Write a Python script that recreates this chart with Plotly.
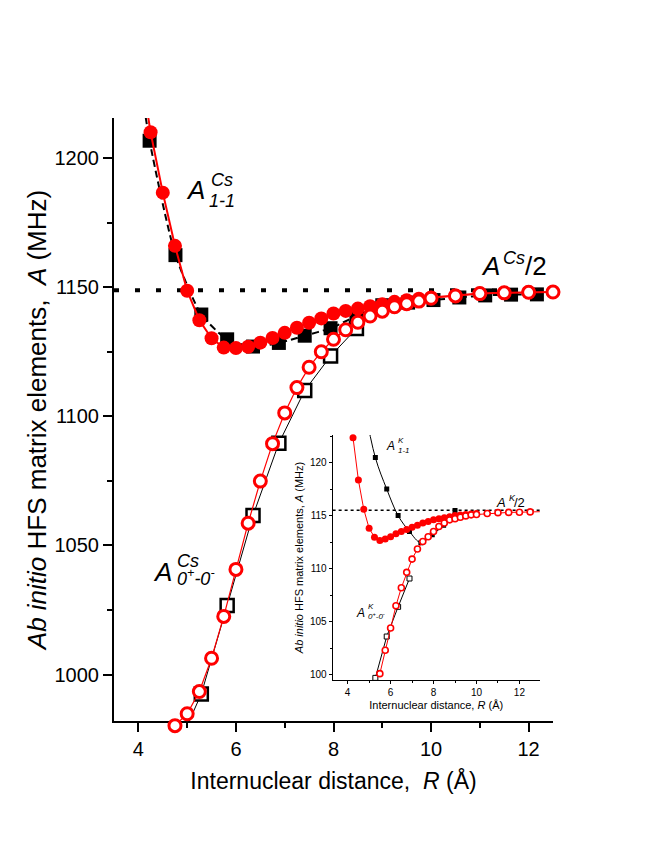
import plotly.graph_objects as go

# ---------------- main panel (Cs) ----------------
R_sq_filled = [3.70, 4.23, 4.76, 5.29, 5.82, 6.35, 6.88, 7.41, 7.94, 8.47, 9.00, 9.53, 10.05, 10.58, 11.11, 11.64, 12.17]
A_sq_filled = [1275, 1206.7, 1162.4, 1139.4, 1129.8, 1127.0, 1128.4, 1131.2, 1134.1, 1138.8, 1143.0, 1144.0, 1145.0, 1146.0, 1146.8, 1147.1, 1147.2]

R_sq_open = [4.76, 5.29, 5.82, 6.35, 6.88, 7.41, 7.94, 8.47]
A_sq_open = [970.0, 992.5, 1026.7, 1061.6, 1089.6, 1110.0, 1123.3, 1134.0]

R_circ_filled = [4.00, 4.25, 4.50, 4.75, 5.00, 5.25, 5.50, 5.75, 6.00, 6.25, 6.50, 6.75, 7.00, 7.25, 7.50,
                 7.75, 8.00, 8.25, 8.50, 8.75, 9.00, 9.25, 9.50, 9.75, 10.0, 10.5, 11.0, 11.5, 12.0, 12.5]
A_circ_filled = [1240, 1210.0, 1186.6, 1166.0, 1148.6, 1137.2, 1130.2, 1126.6, 1126.4, 1126.9, 1128.5, 1130.3, 1132.3,
                 1134.3, 1136.2, 1137.9, 1139.8, 1140.8, 1141.7, 1142.6, 1143.4, 1144.3, 1144.9, 1145.5, 1146.0,
                 1146.8, 1147.5, 1147.8, 1148.0, 1148.1]

R_circ_open = [4.75, 5.00, 5.25, 5.50, 5.75, 6.00, 6.25, 6.50, 6.75, 7.00, 7.25, 7.50, 7.75, 8.00, 8.25,
               8.50, 8.75, 9.00, 9.25, 9.50, 9.75, 10.0, 10.5, 11.0, 11.5, 12.0, 12.5]
A_circ_open = [980.2, 984.8, 993.4, 1006.3, 1022.5, 1040.7, 1058.6, 1074.9, 1089.4, 1101.3, 1111.1, 1119.0,
               1125.0, 1129.8, 1133.5, 1136.4, 1138.8, 1140.7, 1142.4, 1143.6, 1144.6, 1145.7, 1146.6, 1147.5,
               1147.8, 1148.0, 1148.1]

A_CS_HALF = 1148.8

# ---------------- inset (K) ----------------
Rk_sq_filled = [4.76, 5.29, 5.82, 6.35, 6.88, 7.41, 7.94, 8.47, 9.00]
Ak_sq_filled = [125.5, 120.47, 117.5, 115.0, 113.5, 112.45, 113.2, 114.1, 115.47]

Rk_sq_open = [5.29, 5.82, 6.35, 6.88]
Ak_sq_open = [99.7, 103.6, 106.4, 109.07]

Rk_circ_filled = [4.25, 4.50, 4.75, 5.00, 5.25, 5.50, 5.75, 6.00, 6.25, 6.50, 6.75, 7.00, 7.25, 7.50, 7.75,
                  8.00, 8.25, 8.50, 8.75, 9.00, 9.25, 9.50, 9.75, 10.0]
Ak_circ_filled = [122.35, 118.35, 115.6, 113.8, 112.97, 112.66, 112.8, 113.0, 113.3, 113.5, 113.7, 113.9, 114.1,
                  114.3, 114.45, 114.6, 114.7, 114.8, 114.9, 115.0, 115.05, 115.1, 115.15, 115.2]

Rk_circ_open = [5.50, 5.75, 6.00, 6.25, 6.50, 6.75, 7.00, 7.25, 7.50, 7.75, 8.00, 8.25, 8.50, 8.75, 9.00,
                9.25, 9.50, 9.75, 10.0, 10.5, 11.0, 11.5, 12.0, 12.5, 13.0]
Ak_circ_open = [100.1, 102.3, 104.4, 106.5, 108.2, 109.65, 110.9, 111.85, 112.56, 113.0, 113.5, 113.97, 114.3,
                114.6, 114.7, 114.85, 114.97, 115.07, 115.1, 115.2, 115.28, 115.3, 115.32, 115.35, 115.37]

A_K_HALF = 115.5

FONT = "Arial, Liberation Sans, sans-serif"
RED = "#ff0000"

# layout geometry
H, T, B = 860, 110, 137
PLOT_H = H - T - B                 # full plotting height (includes 10 px overhang below main axis)
OVER = 10                          # px below the main x axis where the lowest marker may be drawn
Y_MIN, Y_MAX = 982, 1215.5
MAIN_BOTTOM = OVER / PLOT_H
PX_PER_UNIT = (PLOT_H - OVER) / (Y_MAX - Y_MIN)
Y3_MIN = Y_MIN - OVER / PX_PER_UNIT

fig = go.Figure()

# main traces
fig.add_trace(go.Scatter(x=R_sq_filled, y=A_sq_filled, mode="lines+markers",
                         line=dict(color="black", width=2, dash="7px,4px", shape="spline", smoothing=0.6),
                         marker=dict(symbol="square", size=14, color="black"),
                         xaxis="x", yaxis="y"))
fig.add_trace(go.Scatter(x=R_sq_open, y=A_sq_open, mode="lines+markers",
                         line=dict(color="black", width=1),
                         marker=dict(symbol="square", size=13, color="white", line=dict(color="black", width=2.5)),
                         xaxis="x", yaxis="y"))
fig.add_trace(go.Scatter(x=R_circ_filled, y=A_circ_filled, mode="lines+markers",
                         line=dict(color=RED, width=2),
                         marker=dict(symbol="circle", size=14, color=RED),
                         xaxis="x", yaxis="y"))
fig.add_trace(go.Scatter(x=R_circ_open, y=A_circ_open, mode="lines+markers", cliponaxis=False,
                         line=dict(color=RED, width=1.2),
                         marker=dict(symbol="circle", size=12, color="white", line=dict(color=RED, width=3)),
                         xaxis="x", yaxis="y3"))

# inset traces
fig.add_trace(go.Scatter(x=Rk_sq_filled, y=Ak_sq_filled, mode="lines+markers",
                         line=dict(color="black", width=1, shape="spline", smoothing=1),
                         marker=dict(symbol="square", size=5, color="black"),
                         xaxis="x2", yaxis="y2"))
fig.add_trace(go.Scatter(x=Rk_sq_open, y=Ak_sq_open, mode="lines+markers",
                         line=dict(color="black", width=1),
                         marker=dict(symbol="square", size=5, color="white", line=dict(color="black", width=1)),
                         xaxis="x2", yaxis="y2"))
fig.add_trace(go.Scatter(x=Rk_circ_filled, y=Ak_circ_filled, mode="lines+markers", cliponaxis=False,
                         line=dict(color=RED, width=1),
                         marker=dict(symbol="circle", size=7, color=RED),
                         xaxis="x2", yaxis="y2"))
fig.add_trace(go.Scatter(x=Rk_circ_open, y=Ak_circ_open, mode="lines+markers", cliponaxis=False,
                         line=dict(color=RED, width=1),
                         marker=dict(symbol="circle", size=6, color="white", line=dict(color=RED, width=1.6)),
                         xaxis="x2", yaxis="y2"))

shapes = [
    dict(type="line", xref="x domain", yref="y", x0=0, x1=1, y0=A_CS_HALF, y1=A_CS_HALF,
         line=dict(color="black", width=4, dash="5px,16px"), layer="below"),
    dict(type="line", xref="x2 domain", yref="y2", x0=0, x1=1, y0=A_K_HALF, y1=A_K_HALF,
         line=dict(color="black", width=1.5, dash="3px,3px"), layer="below"),
]

def ann(x, y, text, size, xref="x", yref="y", xanchor="center"):
    return dict(x=x, y=y, xref=xref, yref=yref, text=text, showarrow=False,
                xanchor=xanchor, yanchor="middle", font=dict(family=FONT, size=size, color="black"))

annotations = [
    # A^Cs_{1-1}
    ann(5.18, 1187.5, "<i>A</i>", 26),
    ann(5.44, 1191.6, "<i>Cs</i>", 18, xanchor="left"),
    ann(5.40, 1183.2, "<i>1-1</i>", 18, xanchor="left"),
    # A^Cs/2
    ann(11.22, 1158.0, "<i>A</i>", 26),
    ann(11.44, 1161.2, "<i>Cs</i>", 18, xanchor="left"),
    ann(11.88, 1158.0, "/2", 26, xanchor="left"),
    # A^Cs_{0+-0-}
    ann(4.49, 1039.8, "<i>A</i>", 26),
    ann(4.76, 1044.0, "<i>Cs</i>", 18, xanchor="left"),
    ann(4.76, 1037.4, "<i>0<sup>+</sup>-0<sup>-</sup></i>", 18, xanchor="left"),
    # inset labels
    ann(5.99, 121.6, "<i>A</i>", 12, "x2", "y2"),
    ann(6.25, 122.1, "<i>K</i>", 8, "x2", "y2", "left"),
    ann(6.25, 121.1, "<i>1-1</i>", 8, "x2", "y2", "left"),
    ann(11.15, 116.25, "<i>A</i>", 13, "x2", "y2"),
    ann(11.42, 116.7, "<i>K</i>", 9, "x2", "y2", "left"),
    ann(11.66, 116.25, "/2", 13, "x2", "y2", "left"),
    ann(4.59, 105.8, "<i>A</i>", 12, "x2", "y2"),
    ann(4.85, 106.4, "<i>K</i>", 8, "x2", "y2", "left"),
    ann(4.87, 105.5, "<i>0<sup>+</sup>-0<sup>-</sup></i>", 8, "x2", "y2", "left"),
]

axis_common = dict(showline=True, linecolor="black", showgrid=False, zeroline=False,
                   ticks="outside", tickcolor="black", automargin=False)

# inset placement (figure pixels)
INSET_TOP_PX, INSET_BOT_PX = 427, 672
inset_y0 = (H - B - INSET_BOT_PX) / PLOT_H
inset_y1 = (H - B - INSET_TOP_PX) / PLOT_H

fig.update_layout(
    width=664, height=H,
    margin=dict(l=106, r=119, t=T, b=B),
    paper_bgcolor="white", plot_bgcolor="rgba(0,0,0,0)",
    showlegend=False,
    font=dict(family=FONT, color="black"),
    shapes=shapes,
    annotations=annotations,
    xaxis=dict(**axis_common, range=[3.5, 12.5], dtick=2, tick0=0, linewidth=2, ticklen=9, tickwidth=2,
               minor=dict(dtick=1, ticks="outside", ticklen=5, tickwidth=2, tickcolor="black"),
               tickfont=dict(size=20),
               title=dict(text="Internuclear distance,\u00a0 <i>R</i> (Å)", font=dict(size=23), standoff=14),
               domain=[0, 1], anchor="y"),
    yaxis=dict(**axis_common, range=[Y_MIN, Y_MAX], dtick=50, tick0=0, linewidth=2, ticklen=9, tickwidth=2,
               minor=dict(dtick=25, ticks="outside", ticklen=5, tickwidth=2, tickcolor="black"),
               tickfont=dict(size=20),
               title=dict(text="<i>Ab initio</i> HFS matrix elements,\u00a0 <i>A</i> (MHz)", font=dict(size=26), standoff=0),
               domain=[MAIN_BOTTOM, 1], anchor="x"),
    yaxis3=dict(range=[Y3_MIN, Y_MAX], domain=[0, 1], anchor="x", visible=False,
                showgrid=False, zeroline=False),
    xaxis2=dict(**axis_common, range=[3.3, 12.95], dtick=2, tick0=0, linewidth=1, ticklen=3, tickwidth=1,
                minor=dict(dtick=1, ticks="outside", ticklen=2, tickwidth=1, tickcolor="black"),
                tickfont=dict(size=10),
                title=dict(text="Internuclear distance, <i>R</i> (Å)", font=dict(size=11), standoff=4),
                domain=[0.498, 0.970], anchor="y2"),
    yaxis2=dict(**axis_common, range=[99.5, 122.6], dtick=5, tick0=0, linewidth=1, ticklen=3, tickwidth=1,
                minor=dict(dtick=2.5, ticks="outside", ticklen=2, tickwidth=1, tickcolor="black"),
                tickfont=dict(size=10),
                title=dict(text="<i>Ab initio</i> HFS matrix elements, <i>A</i> (MHz)", font=dict(size=11), standoff=4),
                domain=[inset_y0, inset_y1], anchor="x2"),
)

fig.write_html("out.html")
